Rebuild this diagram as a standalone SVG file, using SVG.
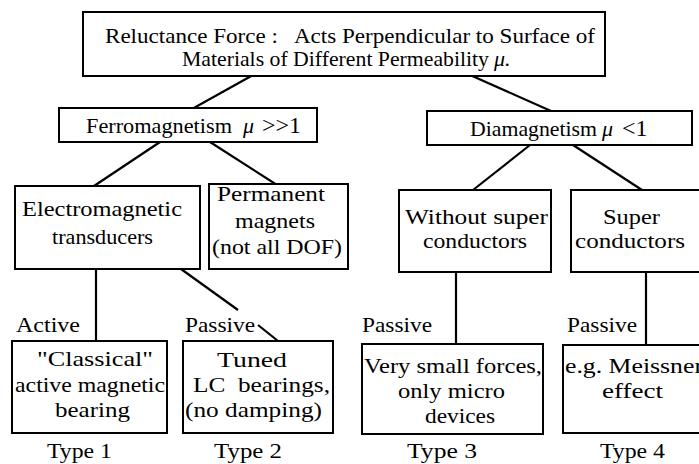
<svg xmlns="http://www.w3.org/2000/svg" width="699" height="464" viewBox="0 0 699 464">
<style>
.box{fill:#fff;stroke:#000;stroke-width:2}
.ln{stroke:#000;stroke-width:2.2;fill:none}
text{font-family:Liberation Serif,DejaVu Serif,Times New Roman,serif;font-size:22px;fill:#000;white-space:pre}
.i{font-style:italic}
.op{font-size:24px}
</style>
<rect width="699" height="464" fill="#fff"/>
<g id="connectors">
<line class="ln" x1="253" y1="75" x2="192" y2="109"/>
<line class="ln" x1="470" y1="75" x2="551" y2="111"/>
<line class="ln" x1="160" y1="142" x2="94" y2="186"/>
<line class="ln" x1="210" y1="142" x2="277" y2="185"/>
<line class="ln" x1="530" y1="145" x2="473" y2="190"/>
<line class="ln" x1="573" y1="145" x2="642" y2="190"/>
<line class="ln" x1="96" y1="268" x2="96" y2="342"/>
<line class="ln" x1="181" y1="269" x2="238" y2="310"/>
<line class="ln" x1="258" y1="325" x2="278" y2="341"/>
<line class="ln" x1="456" y1="272" x2="456" y2="345"/>
<line class="ln" x1="646" y1="272" x2="646" y2="345"/>
</g>
<g id="root">
<rect class="box" x="83" y="12" width="522" height="64"/>
<text x="105" y="43" textLength="490" lengthAdjust="spacingAndGlyphs">Reluctance Force :   Acts Perpendicular to Surface of</text>
<text x="182" y="66" textLength="307" lengthAdjust="spacingAndGlyphs">Materials of Different Permeability</text>
<text x="494" y="66" class="i">μ.</text>
</g>
<g id="ferro">
<rect class="box" x="59" y="108" width="258" height="34"/>
<text x="86" y="133" textLength="146" lengthAdjust="spacingAndGlyphs">Ferromagnetism</text>
<text x="243" y="133" class="i">μ</text>
<text x="262" y="133" class="op">&gt;&gt;1</text>
</g>
<g id="dia">
<rect class="box" x="427" y="111" width="265" height="34"/>
<text x="470" y="136" textLength="127" lengthAdjust="spacingAndGlyphs">Diamagnetism</text>
<text x="602" y="136" class="i">μ</text>
<text x="622" y="136" class="op">&lt;1</text>
</g>
<g id="electro">
<rect class="box" x="15" y="186" width="185" height="83"/>
<text x="22" y="216" textLength="160" lengthAdjust="spacingAndGlyphs">Electromagnetic</text>
<text x="52" y="244" textLength="101" lengthAdjust="spacingAndGlyphs">transducers</text>
</g>
<g id="permanent">
<rect class="box" x="209" y="184" width="139" height="85"/>
<text x="217" y="201" textLength="108" lengthAdjust="spacingAndGlyphs">Permanent</text>
<text x="235" y="228" textLength="80" lengthAdjust="spacingAndGlyphs">magnets</text>
<text x="212" y="254" textLength="130" lengthAdjust="spacingAndGlyphs">(not all DOF)</text>
</g>
<g id="without">
<rect class="box" x="399" y="190" width="152" height="82"/>
<text x="405" y="224" textLength="143" lengthAdjust="spacingAndGlyphs">Without super</text>
<text x="423" y="248" textLength="104" lengthAdjust="spacingAndGlyphs">conductors</text>
</g>
<g id="super">
<rect class="box" x="571" y="190" width="140" height="82"/>
<text x="603" y="224" textLength="57" lengthAdjust="spacingAndGlyphs">Super</text>
<text x="575" y="248" textLength="110" lengthAdjust="spacingAndGlyphs">conductors</text>
</g>
<g id="type1">
<text x="16" y="332" textLength="64" lengthAdjust="spacingAndGlyphs">Active</text>
<rect class="box" x="12" y="341" width="155" height="92"/>
<text x="37" y="366" textLength="116" lengthAdjust="spacingAndGlyphs">"Classical"</text>
<text x="15" y="392" textLength="150" lengthAdjust="spacingAndGlyphs">active magnetic</text>
<text x="55" y="417" textLength="75" lengthAdjust="spacingAndGlyphs">bearing</text>
<text x="47" y="458" textLength="65" lengthAdjust="spacingAndGlyphs">Type 1</text>
</g>
<g id="type2">
<text x="185" y="332" textLength="70" lengthAdjust="spacingAndGlyphs">Passive</text>
<rect class="box" x="183" y="341" width="150" height="92"/>
<text x="217" y="367" textLength="70" lengthAdjust="spacingAndGlyphs">Tuned</text>
<text x="193" y="392" textLength="137" lengthAdjust="spacingAndGlyphs">LC  bearings,</text>
<text x="185" y="417" textLength="137" lengthAdjust="spacingAndGlyphs">(no damping)</text>
<text x="214" y="458" textLength="68" lengthAdjust="spacingAndGlyphs">Type 2</text>
</g>
<g id="type3">
<text x="362" y="332" textLength="70" lengthAdjust="spacingAndGlyphs">Passive</text>
<rect class="box" x="362" y="344" width="181" height="90"/>
<text x="364" y="373" textLength="178" lengthAdjust="spacingAndGlyphs">Very small forces,</text>
<text x="398" y="398" textLength="107" lengthAdjust="spacingAndGlyphs">only micro</text>
<text x="425" y="423" textLength="70" lengthAdjust="spacingAndGlyphs">devices</text>
<text x="407" y="458" textLength="70" lengthAdjust="spacingAndGlyphs">Type 3</text>
</g>
<g id="type4">
<text x="567" y="332" textLength="70" lengthAdjust="spacingAndGlyphs">Passive</text>
<rect class="box" x="563" y="345" width="150" height="88"/>
<text x="565" y="373" textLength="138" lengthAdjust="spacingAndGlyphs">e.g. Meissner</text>
<text x="602" y="398" textLength="61" lengthAdjust="spacingAndGlyphs">effect</text>
<text x="600" y="458" textLength="65" lengthAdjust="spacingAndGlyphs">Type 4</text>
</g>
</svg>
